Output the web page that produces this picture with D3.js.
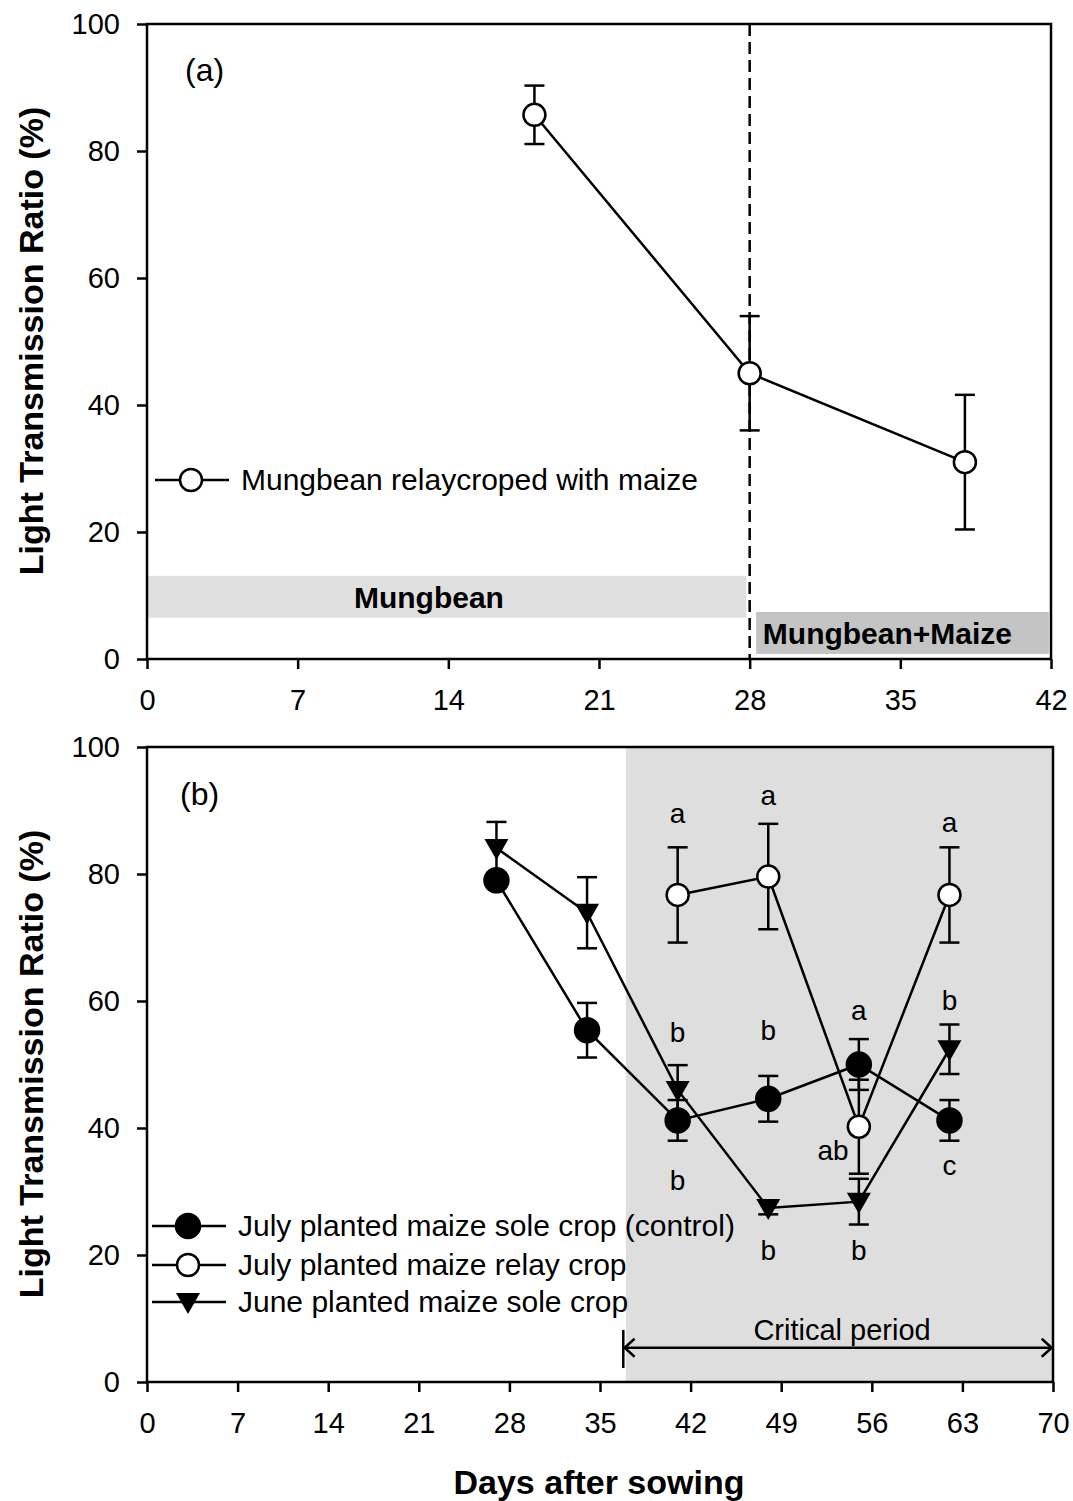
<!DOCTYPE html>
<html>
<head>
<meta charset="utf-8">
<script src="https://cdn.jsdelivr.net/npm/d3@7"></script>
<style>
body { margin: 0; background: #fff; }
text { font-family: "Liberation Sans", Arial, sans-serif; fill: #000; }
.tick text { font-size: 29px; }
.tick line { stroke: #000; stroke-width: 2.5; }
</style>
</head>
<body>
<script>
// panel (a) data
var daysA = [18, 28, 38];
var relayA = [85.7, 45.0, 31.0];
var relayAErr = [4.6, 9.0, 10.6];

// panel (b) data
var daysB = [27, 34, 41, 48, 55, 62];
var controlB = [79.0, 55.4, 41.2, 44.6, 50.0, 41.2];
var controlErr = [1.2, 4.3, 3.2, 3.6, 4.0, 3.2];
var relayB = [null, null, 76.7, 79.6, 40.2, 76.7];
var relayBErr = [null, null, 7.5, 8.3, 7.4, 7.5];
var juneB = [84.1, 73.9, 46.0, 27.4, 28.4, 52.4];
var juneErr = [4.1, 5.6, 3.9, 1.0, 3.6, 3.9];

// significance letters (day, y, text)
var letterDays = [41, 41, 41, 48, 48, 48, 55, 53, 55, 62, 62, 62];
var letterY = [89.6, 55.1, 31.8, 92.4, 55.4, 20.8, 58.6, 36.5, 20.8, 88.2, 60.2, 34.2];
var letterText = ["a", "b", "b", "a", "b", "b", "a", "ab", "b", "a", "b", "c"];

var ticksA = [0, 7, 14, 21, 28, 35, 42];
var ticksB = [0, 7, 14, 21, 28, 35, 42, 49, 56, 63, 70];
var ticksY = [0, 20, 40, 60, 80, 100];

var width = 1073, height = 1501;

var svg = d3.select("body").append("svg")
    .attr("width", width)
    .attr("height", height);

svg.append("rect").attr("width", width).attr("height", height).attr("fill", "#fff");

var tri = "M-12,-9L12,-9L0,12Z";

function drawAxes(g, x, y, xticks) {
    g.append("g")
        .attr("class", "axis")
        .attr("transform", "translate(0," + y.range()[0] + ")")
        .call(d3.axisBottom(x).tickValues(xticks).tickSize(10).tickSizeOuter(0).tickPadding(20))
        .call(function(a){ a.select(".domain").remove(); });
    g.append("g")
        .attr("class", "axis")
        .attr("transform", "translate(" + x.range()[0] + ",0)")
        .call(d3.axisLeft(y).tickValues(ticksY).tickSize(10).tickSizeOuter(0).tickPadding(17))
        .call(function(a){ a.select(".domain").remove(); });
    // frame
    g.append("rect")
        .attr("x", x.range()[0])
        .attr("y", y.range()[1])
        .attr("width", x.range()[1] - x.range()[0])
        .attr("height", y.range()[0] - y.range()[1])
        .attr("fill", "none")
        .attr("stroke", "#000")
        .attr("stroke-width", 2.5);
}

function yLabel(g, cy) {
    g.append("text")
        .attr("transform", "translate(43," + cy + ") rotate(-90)")
        .attr("text-anchor", "middle")
        .style("font-size", "34px")
        .style("font-weight", "bold")
        .text("Light Transmission Ratio (%)");
}

function errorBars(g, x, y, days, vals, errs) {
    days.forEach(function(d, i){
        if (vals[i] == null) return;
        var lo = y(vals[i] - errs[i]), hi = y(vals[i] + errs[i]), cx = x(d);
        g.append("line").attr("x1", cx).attr("x2", cx).attr("y1", lo).attr("y2", hi)
            .attr("stroke", "#000").attr("stroke-width", 2.5);
        [lo, hi].forEach(function(yy){
            g.append("line").attr("x1", cx - 10).attr("x2", cx + 10).attr("y1", yy).attr("y2", yy)
                .attr("stroke", "#000").attr("stroke-width", 2.5);
        });
    });
}

function series(g, x, y, days, vals) {
    var pts = days.map(function(d, i){ return [d, vals[i]]; }).filter(function(p){ return p[1] != null; });
    var line = d3.line().x(function(p){ return x(p[0]); }).y(function(p){ return y(p[1]); });
    g.append("path").datum(pts).attr("d", line)
        .attr("fill", "none").attr("stroke", "#000").attr("stroke-width", 2.5);
    return pts;
}

function markers(g, x, y, pts, kind) {
    pts.forEach(function(p){
        if (kind == "tri") {
            g.append("path").attr("d", tri)
                .attr("transform", "translate(" + x(p[0]) + "," + y(p[1]) + ")")
                .attr("fill", "#000");
        } else {
            g.append("circle").attr("cx", x(p[0])).attr("cy", y(p[1]))
                .attr("r", kind == "open" ? 11 : 12)
                .attr("fill", kind == "open" ? "#fff" : "#000")
                .attr("stroke", "#000").attr("stroke-width", 2.5);
        }
    });
}

function legendItem(g, x0, yy, kind, label) {
    g.append("line").attr("x1", x0).attr("x2", x0 + 74).attr("y1", yy).attr("y2", yy)
        .attr("stroke", "#000").attr("stroke-width", 2.5);
    var cx = x0 + 36;
    if (kind == "tri") {
        g.append("path").attr("d", tri).attr("transform", "translate(" + cx + "," + yy + ")").attr("fill", "#000");
    } else {
        g.append("circle").attr("cx", cx).attr("cy", yy).attr("r", kind == "open" ? 11 : 12)
            .attr("fill", kind == "open" ? "#fff" : "#000").attr("stroke", "#000").attr("stroke-width", 2.5);
    }
    g.append("text").attr("x", x0 + 86).attr("y", yy + 10).style("font-size", "30px").text(label);
}

// ---------- panel (a)
var xA = d3.scaleLinear().domain([0, 42]).range([147, 1051]);
var yA = d3.scaleLinear().domain([0, 100]).range([659, 24]);
var gA = svg.append("g");

// stage bands
gA.append("rect").attr("x", xA(0) + 1).attr("y", yA(13.1))
    .attr("width", xA(27.8) - xA(0)).attr("height", yA(6.5) - yA(13.1)).attr("fill", "#e0e0e0");
gA.append("rect").attr("x", xA(28.3)).attr("y", yA(7.4))
    .attr("width", xA(41.9) - xA(28.3)).attr("height", yA(0.8) - yA(7.4)).attr("fill", "#c4c4c4");
gA.append("text").attr("x", xA(13.1)).attr("y", yA(9.8) + 11).attr("text-anchor", "middle")
    .style("font-size", "30px").style("font-weight", "bold").text("Mungbean");
gA.append("text").attr("x", xA(34.4)).attr("y", yA(4.1) + 11).attr("text-anchor", "middle")
    .style("font-size", "30px").style("font-weight", "bold").text("Mungbean+Maize");

drawAxes(gA, xA, yA, ticksA);

gA.append("line").attr("x1", xA(28)).attr("x2", xA(28)).attr("y1", yA(100)).attr("y2", yA(0))
    .attr("stroke", "#000").attr("stroke-width", 2.5).attr("stroke-dasharray", "12,6");

errorBars(gA, xA, yA, daysA, relayA, relayAErr);
var ptsA = series(gA, xA, yA, daysA, relayA);
markers(gA, xA, yA, ptsA, "open");

gA.append("text").attr("x", 185).attr("y", 81).style("font-size", "32px").text("(a)");
legendItem(gA, 155, 480, "open", "Mungbean relaycroped with maize");
yLabel(gA, 341);

// ---------- panel (b)
var xB = d3.scaleLinear().domain([0, 70]).range([147, 1053]);
var yB = d3.scaleLinear().domain([0, 100]).range([1382, 747]);
var gB = svg.append("g");

gB.append("rect").attr("x", xB(37)).attr("y", yB(100))
    .attr("width", xB(70) - xB(37)).attr("height", yB(0) - yB(100)).attr("fill", "#dedede");

drawAxes(gB, xB, yB, ticksB);

// critical period arrow
var ay = yB(5.4);
gB.append("line").attr("x1", xB(36.9)).attr("x2", xB(69.9)).attr("y1", ay).attr("y2", ay)
    .attr("stroke", "#000").attr("stroke-width", 2.5);
gB.append("line").attr("x1", xB(36.8)).attr("x2", xB(36.8)).attr("y1", yB(8.2)).attr("y2", yB(2.2))
    .attr("stroke", "#000").attr("stroke-width", 2.5);
gB.append("path").attr("d", "M" + (xB(36.9) + 10) + "," + (ay - 9) + "L" + xB(36.9) + "," + ay + "L" + (xB(36.9) + 10) + "," + (ay + 9))
    .attr("fill", "none").attr("stroke", "#000").attr("stroke-width", 2.5);
gB.append("path").attr("d", "M" + (xB(69.9) - 10) + "," + (ay - 9) + "L" + xB(69.9) + "," + ay + "L" + (xB(69.9) - 10) + "," + (ay + 9))
    .attr("fill", "none").attr("stroke", "#000").attr("stroke-width", 2.5);
gB.append("text").attr("x", xB(53.7)).attr("y", yB(8.2) + 10).attr("text-anchor", "middle")
    .style("font-size", "29px").text("Critical period");

errorBars(gB, xB, yB, daysB, controlB, controlErr);
errorBars(gB, xB, yB, daysB, relayB, relayBErr);
errorBars(gB, xB, yB, daysB, juneB, juneErr);
var ptsC = series(gB, xB, yB, daysB, controlB);
var ptsR = series(gB, xB, yB, daysB, relayB);
var ptsJ = series(gB, xB, yB, daysB, juneB);
markers(gB, xB, yB, ptsC, "filled");
markers(gB, xB, yB, ptsR, "open");
markers(gB, xB, yB, ptsJ, "tri");

letterText.forEach(function(t, i){
    gB.append("text").attr("x", xB(letterDays[i])).attr("y", yB(letterY[i]) + 10)
        .attr("text-anchor", "middle").style("font-size", "28px").text(t);
});

gB.append("text").attr("x", 180).attr("y", 805).style("font-size", "32px").text("(b)");
legendItem(gB, 152, 1226, "filled", "July planted maize sole crop (control)");
legendItem(gB, 152, 1265, "open", "July planted maize relay crop");
legendItem(gB, 152, 1302, "tri", "June planted maize sole crop");
yLabel(gB, 1064);

svg.append("text").attr("x", 599).attr("y", 1494).attr("text-anchor", "middle")
    .style("font-size", "34px").style("font-weight", "bold").text("Days after sowing");
</script>
</body>
</html>
